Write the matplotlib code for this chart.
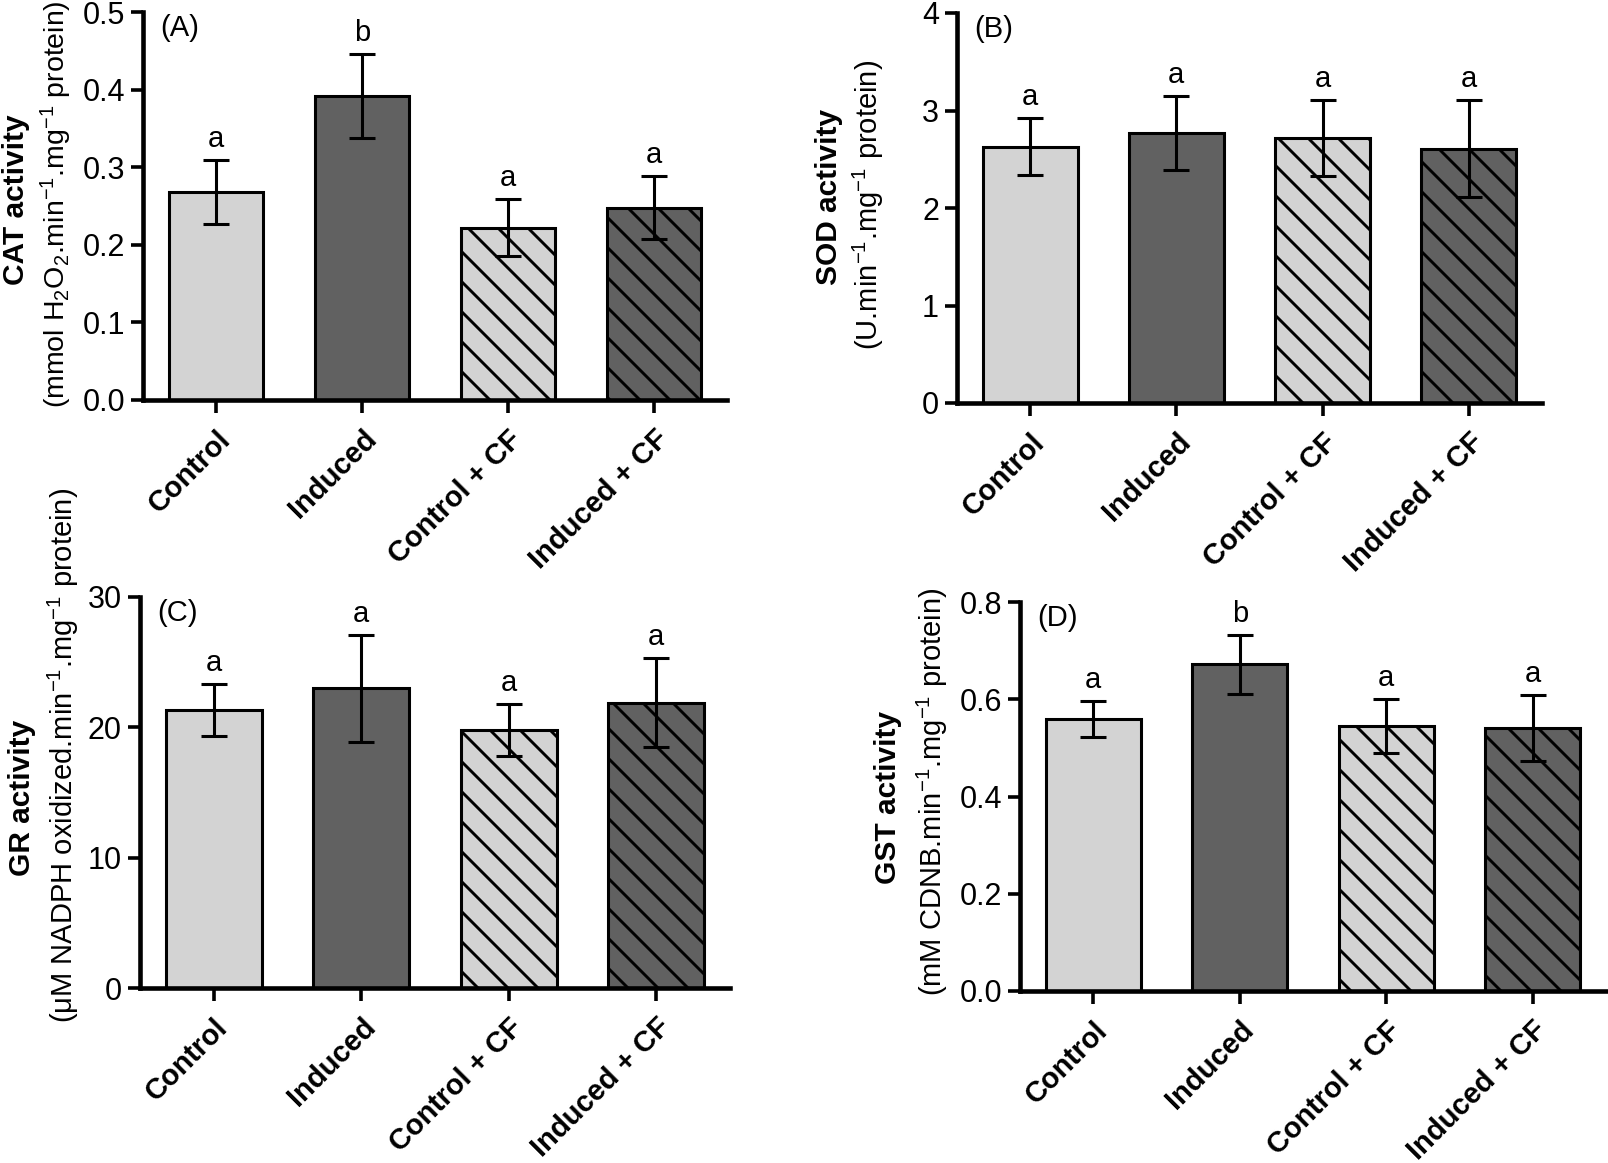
import matplotlib
matplotlib.use("Agg")
import matplotlib.pyplot as plt
import numpy as np

# dpi 90 so the single-line hatch spacing comes out near the reference (~15 px)
DPI = 90
k = 100 / DPI  # sizes below were tuned at dpi 100

plt.rcParams['font.family'] = ['Liberation Sans', 'DejaVu Sans']
plt.rcParams['mathtext.fontset'] = 'custom'
plt.rcParams['mathtext.rm'] = 'Liberation Sans'
plt.rcParams['mathtext.it'] = 'Liberation Sans:italic'
plt.rcParams['mathtext.bf'] = 'Liberation Sans:bold'
plt.rcParams['hatch.linewidth'] = 2.1 * k

groups = ['Control', 'Induced', 'Control + CF', 'Induced + CF']
colors = ['#d3d3d3', '#616161', '#d3d3d3', '#616161']
hatches = ['', '', '\\', '\\']

# CAT (A)
cat_mean = [0.268, 0.392, 0.222, 0.248]
cat_err = [0.041, 0.054, 0.037, 0.041]
cat_sig = ['a', 'b', 'a', 'a']

# SOD (B)
sod_mean = [2.63, 2.77, 2.72, 2.61]
sod_err = [0.29, 0.38, 0.39, 0.50]
sod_sig = ['a', 'a', 'a', 'a']

# GR (C)
gr_mean = [21.3, 23.0, 19.8, 21.9]
gr_err = [2.0, 4.1, 2.0, 3.4]
gr_sig = ['a', 'a', 'a', 'a']

# GST (D)
gst_mean = [0.560, 0.672, 0.545, 0.540]
gst_err = [0.037, 0.061, 0.055, 0.068]
gst_sig = ['a', 'b', 'a', 'a']

W, H = 1609, 1163
fig = plt.figure(figsize=(W / DPI, H / DPI), dpi=DPI)


def box(l, r, t, b):
    # pixel box -> figure fraction
    return [l / W, 1 - b / H, (r - l) / W, (b - t) / H]


def panel(rect, mean, err, sig, ymax, yticks, ticklabels, tag):
    ax = fig.add_axes(rect)
    x = np.arange(len(groups))
    bars = ax.bar(x, mean, width=0.65, color=colors, edgecolor='black',
                  linewidth=2.2 * k, zorder=2)
    for b, h in zip(bars, hatches):
        b.set_hatch(h)
    ax.errorbar(x, mean, yerr=err, fmt='none', ecolor='black', elinewidth=2.2 * k,
                capsize=9.5 * k, capthick=2.2 * k, zorder=3)
    for xi, m, e, s in zip(x, mean, err, sig):
        ax.annotate(s, (xi, m + e), xytext=(0, 5 * k), textcoords='offset points',
                    ha='center', va='bottom', fontsize=21 * k)
    ax.set_xlim(-0.5, 3.5)
    ax.set_ylim(0, ymax)
    ax.set_yticks(yticks)
    ax.set_yticklabels(ticklabels)
    ax.set_xticks(x)
    ax.set_xticklabels(groups, rotation=45, ha='right', va='top',
                       rotation_mode='anchor', fontweight='bold')
    for s in ['top', 'right']:
        ax.spines[s].set_visible(False)
    for s in ['left', 'bottom']:
        ax.spines[s].set_linewidth(3.3 * k)
    ax.tick_params(axis='both', length=9 * k, width=2.6 * k, labelsize=22 * k, pad=4 * k)
    ax.tick_params(axis='x', labelsize=21 * k, pad=9 * k)
    ax.text(0.03, 0.995, tag, transform=ax.transAxes, ha='left', va='top',
            fontsize=21 * k)
    return ax


panel(box(143, 727, 12, 400), cat_mean, cat_err, cat_sig, 0.5,
      [0, 0.1, 0.2, 0.3, 0.4, 0.5], ['0.0', '0.1', '0.2', '0.3', '0.4', '0.5'], '(A)')
panel(box(957, 1542, 13, 403), sod_mean, sod_err, sod_sig, 4,
      [0, 1, 2, 3, 4], ['0', '1', '2', '3', '4'], '(B)')
panel(box(140, 730, 597, 988), gr_mean, gr_err, gr_sig, 30,
      [0, 10, 20, 30], ['0', '10', '20', '30'], '(C)')
panel(box(1020, 1606, 602, 991), gst_mean, gst_err, gst_sig, 0.8,
      [0, 0.2, 0.4, 0.6, 0.8], ['0.0', '0.2', '0.4', '0.6', '0.8'], '(D)')


def ylab(xb, yb, xr, yr, bold, regular, size=21):
    fig.text(xb / W, 1 - yb / H, bold, rotation=90, ha='center', va='center',
             fontsize=21.5 * k, fontweight='bold')
    fig.text(xr / W, 1 - yr / H, regular, rotation=90, ha='center', va='center',
             fontsize=size * k)


ylab(16, 200, 56, 204, 'CAT activity',
     r'(mmol H$_2$O$_2$.min$^{-1}$.mg$^{-1}$ protein)', size=20.5)
ylab(829, 197, 868, 205, 'SOD activity',
     r'(U.min$^{-1}$.mg$^{-1}$ protein)')
ylab(22, 798, 63, 755, 'GR activity',
     r'(μM NADPH oxidized.min$^{-1}$.mg$^{-1}$ protein)')
ylab(888, 797, 932, 792, 'GST activity',
     r'(mM CDNB.min$^{-1}$.mg$^{-1}$ protein)')

fig.savefig('out.png', dpi=DPI)
